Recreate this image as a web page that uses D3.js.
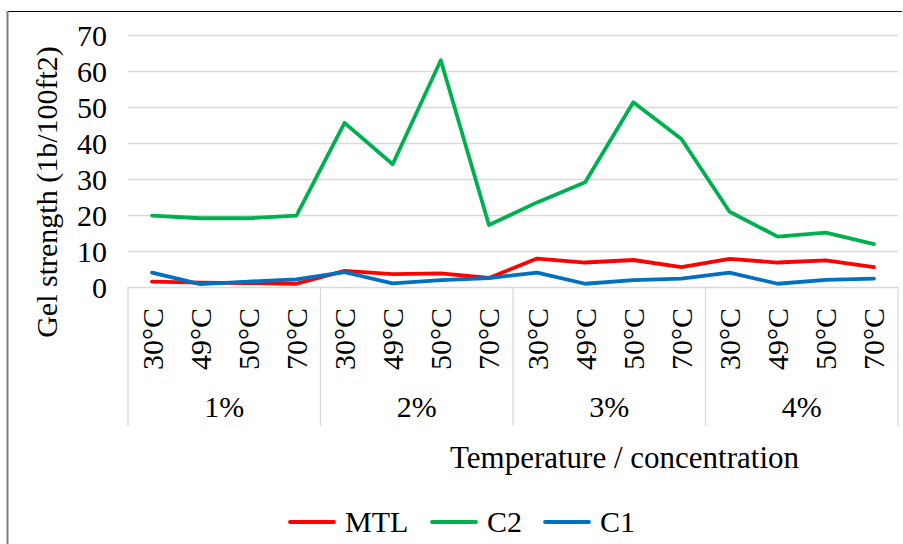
<!DOCTYPE html>
<html>
<head>
<meta charset="utf-8">
<script src="https://cdn.jsdelivr.net/npm/d3@7"></script>
<style>
  body { margin: 0; background: #fff; }
  text { font-family: "Liberation Serif", "Times New Roman", serif; fill: #000; }
</style>
</head>
<body>
<div id="chart"></div>
<script>
// categories
const groups = ["1%", "2%", "3%", "4%"];
const temps = ["30°C", "49°C", "50°C", "70°C"];

// series values (gel strength), 16 points each: 4 temps x 4 concentrations
const mtl = [1.5, 1.2, 1.1, 0.9, 4.5, 3.6, 3.8, 2.5, 7.9, 6.8, 7.5, 5.5, 7.8, 6.8, 7.4, 5.5];
const c2 = [19.8, 19.1, 19.1, 19.8, 45.6, 34.1, 63.0, 17.2, 23.5, 29.1, 51.3, 41.1, 20.9, 14.0, 15.1, 11.9];
const c1 = [4.0, 0.8, 1.5, 2.1, 4.1, 1.0, 1.9, 2.5, 4.0, 0.9, 1.9, 2.3, 4.0, 0.9, 2.0, 2.3];

const yTicks = [0, 10, 20, 30, 40, 50, 60, 70];

const seriesList = [
  { name: "MTL", color: "#ff0000", values: mtl },
  { name: "C2", color: "#00b050", values: c2 },
  { name: "C1", color: "#0070c0", values: c1 }
];

// build flat category list
let categories = [];
groups.forEach((g, gi) => {
  temps.forEach((t, ti) => {
    categories.push({ idx: gi * temps.length + ti, group: g, temp: t });
  });
});

const W = 903, H = 544;
const plot = { left: 128, right: 898, top: 35, bottom: 287 };

const svg = d3.select("#chart").append("svg")
  .attr("width", W)
  .attr("height", H);

svg.append("rect").attr("width", W).attr("height", H).attr("fill", "#fff");

// outer frame (top + left edges visible)
svg.append("line")
  .attr("x1", 7).attr("x2", 902).attr("y1", 11.5).attr("y2", 11.5)
  .attr("stroke", "#000").attr("stroke-width", 1.2);
svg.append("line")
  .attr("x1", 7.5).attr("x2", 7.5).attr("y1", 11).attr("y2", H)
  .attr("stroke", "#7f7f7f").attr("stroke-width", 2);

// scales
const x = d3.scaleBand()
  .domain(categories.map(d => d.idx))
  .range([plot.left, plot.right]);

const y = d3.scaleLinear()
  .domain([0, 70])
  .range([plot.bottom, plot.top]);

const cx = i => x(i) + x.bandwidth() / 2;

// gridlines + y labels
const yAxis = d3.axisLeft(y)
  .tickValues(yTicks)
  .tickSize(-(plot.right - plot.left))
  .tickPadding(21);

const gy = svg.append("g")
  .attr("transform", `translate(${plot.left},0)`)
  .call(yAxis);
gy.attr("font-family", null);
gy.select(".domain").remove();
gy.selectAll(".tick line").attr("stroke", "#d9d9d9").attr("stroke-width", 1.3);
gy.selectAll(".tick text")
  .style("font-family", "'Liberation Serif', serif")
  .style("font-size", "30px")
  .attr("fill", "#000")
  .attr("dy", "0.34em");

// group separators below axis
const bounds = d3.range(groups.length + 1).map(i => i === groups.length
  ? plot.right
  : x(i * temps.length));
svg.selectAll(".sep")
  .data(bounds)
  .enter()
  .append("line")
  .attr("x1", d => d).attr("x2", d => d)
  .attr("y1", plot.bottom).attr("y2", 426)
  .attr("stroke", "#d9d9d9").attr("stroke-width", 1.3);

// rotated temperature labels
svg.selectAll(".tlabel")
  .data(categories)
  .enter()
  .append("text")
  .attr("transform", d => `translate(${cx(d.idx)},${plot.bottom + 21}) rotate(-90)`)
  .attr("text-anchor", "end")
  .attr("dy", "0.35em")
  .style("font-size", "30px")
  .text(d => d.temp);

// group labels
svg.selectAll(".glabel")
  .data(groups)
  .enter()
  .append("text")
  .attr("x", (d, i) => (bounds[i] + bounds[i + 1]) / 2)
  .attr("y", 417)
  .attr("text-anchor", "middle")
  .style("font-size", "30px")
  .text(d => d);

// lines
const line = d3.line()
  .x((d, i) => cx(i))
  .y(d => y(d));

svg.selectAll(".series")
  .data(seriesList)
  .enter()
  .append("path")
  .attr("fill", "none")
  .attr("stroke", d => d.color)
  .attr("stroke-width", 3.8)
  .attr("stroke-linejoin", "round")
  .attr("stroke-linecap", "round")
  .attr("d", d => line(d.values));

// axis titles
svg.append("text")
  .attr("transform", "translate(57,192) rotate(-90)")
  .attr("text-anchor", "middle")
  .style("font-size", "30px")
  .text("Gel strength (1b/100ft2)");

svg.append("text")
  .attr("x", 450)
  .attr("y", 468)
  .style("font-size", "31px")
  .text("Temperature / concentration");

// legend
const legendX = [290, 432, 545];
const legend = svg.selectAll(".legend")
  .data(seriesList)
  .enter()
  .append("g")
  .attr("transform", (d, i) => `translate(${legendX[i]},522)`);

legend.append("line")
  .attr("x1", 0).attr("x2", 44)
  .attr("stroke", d => d.color)
  .attr("stroke-width", 3.8)
  .attr("stroke-linecap", "round");

legend.append("text")
  .attr("x", 55)
  .attr("y", 10)
  .style("font-size", "30px")
  .text(d => d.name);
</script>
</body>
</html>
